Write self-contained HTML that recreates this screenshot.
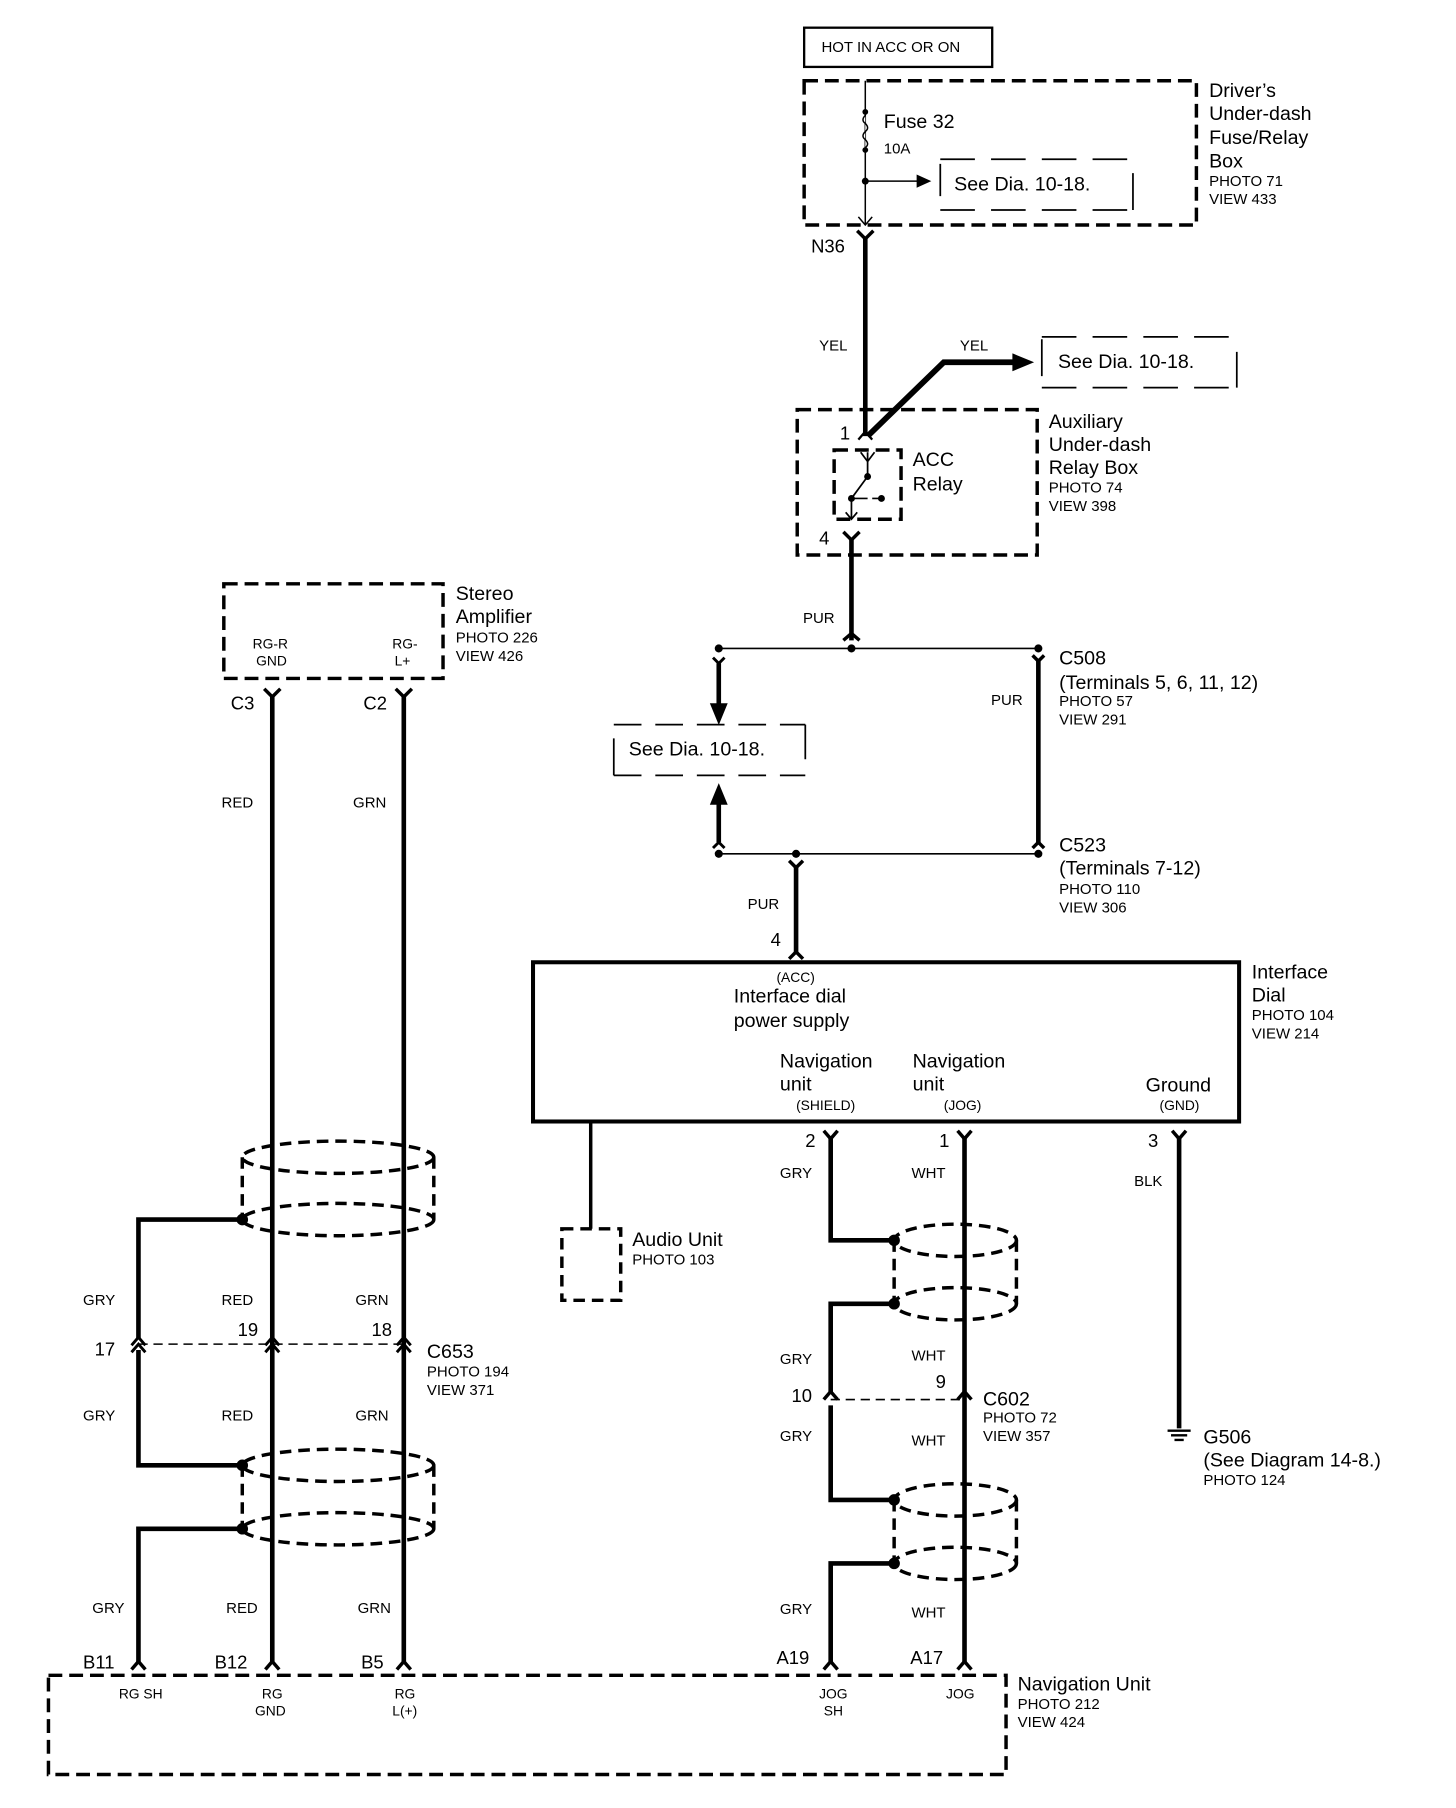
<!DOCTYPE html>
<html><head><meta charset="utf-8"><style>
html,body{margin:0;padding:0;background:#fff}
svg{display:block}
text{font-family:"Liberation Sans",sans-serif;fill:#000}
.b{font-size:17px}.s{font-size:13px}.m{font-size:16px}
</style></head><body>
<svg width="1456" height="1808" viewBox="0 0 1262 1567" preserveAspectRatio="none" xmlns="http://www.w3.org/2000/svg">
<g fill="none" stroke="#000">
<!-- top -->
<rect x="697" y="24" width="163" height="34" stroke-width="2"/>
<rect x="697" y="70" width="340" height="125" stroke-width="3" stroke-dasharray="12 6"/>
<line x1="750" y1="70" x2="750" y2="195" stroke-width="1.3"/>
<path d="M750 100 q-4 4 0 7 q4 4 0 7 q-4 4 0 7 q4 4 0 7" stroke-width="1.3" fill="#fff"/>
<line x1="750" y1="157" x2="795" y2="157" stroke-width="1.3"/>
<path d="M795 152 L806 157 L795 162 Z" fill="#000"/>
<path d="M744 188 L750 195 L756 188" stroke-width="1.3"/>
<path d="M815 138 H982 M815 182 H982" stroke-width="1.5" stroke-dasharray="30 14"/>
<path d="M815 142 V170 M982 150 V182" stroke-width="1.5"/>
<path d="M743 200 L750 207 L757 200" stroke-width="3"/>
<line x1="750" y1="205" x2="750" y2="378" stroke-width="4"/>
<path d="M752 378 L818 314 L880 314" stroke-width="5"/>
<path d="M878 307 L895 314 L878 321 Z" fill="#000"/>
<path d="M903 292 H1072 M903 336 H1072" stroke-width="1.5" stroke-dasharray="30 14"/>
<path d="M903 294 V326 M1072 305 V336" stroke-width="1.5"/>
<rect x="691" y="355" width="208" height="126" stroke-width="3" stroke-dasharray="12 6"/>
<path d="M744 381 L750 374 L756 381" stroke-width="2"/>
<rect x="723" y="390" width="58" height="60" stroke-width="3" stroke-dasharray="12 6"/>
<path d="M746 392 L752 400 M758 392 L752 400 M752 392 V413 L738 432 V450 M733 444 L738 450 L743 444 M738 432 H752 M756 432 H762" stroke-width="1.5"/>
<circle cx="752" cy="413" r="2.5" fill="#000"/><circle cx="738" cy="432" r="2.5" fill="#000"/><circle cx="764" cy="432" r="2.5" fill="#000"/>
<path d="M731 461 L738 468 L745 461" stroke-width="3"/>
<line x1="738" y1="466" x2="738" y2="555" stroke-width="4"/>
<path d="M731 555 L738 549 L745 555" stroke-width="3"/>
<line x1="623" y1="562" x2="900" y2="562" stroke-width="1.5"/>
<!-- left branch -->
<path d="M617 572 L623 566 L629 572 M617 578 L623 572 L629 578" stroke-width="0"/>
<path d="M618 570 L623 575 L628 570" stroke-width="2.5"/>
<line x1="623" y1="575" x2="623" y2="612" stroke-width="4"/>
<path d="M616 610 L623 627 L630 610 Z" fill="#000"/>
<path d="M532 628 H698 M532 672 H698" stroke-width="1.5" stroke-dasharray="24 12"/>
<path d="M532 640 V672 M698 628 V658" stroke-width="1.5"/>
<path d="M616 697 L623 680 L630 697 Z" fill="#000"/>
<line x1="623" y1="695" x2="623" y2="730" stroke-width="4"/>
<path d="M618 735 L623 730 L628 735" stroke-width="2.5"/>
<!-- right branch -->
<path d="M894 572 L900 566 L906 572" stroke-width="0"/>
<path d="M895 568 L900 573 L905 568" stroke-width="3"/>
<line x1="900" y1="572" x2="900" y2="731" stroke-width="4"/>
<path d="M895 735 L900 730 L905 735" stroke-width="3"/>
<line x1="623" y1="740" x2="900" y2="740" stroke-width="1.5"/>
<path d="M684 746 L690 752 L696 746" stroke-width="3"/>
<line x1="690" y1="750" x2="690" y2="826" stroke-width="4"/>
<path d="M684 831 L690 825 L696 831" stroke-width="3"/>
<!-- interface dial -->
<rect x="462" y="834" width="612" height="138" stroke-width="3.5"/>
<line x1="512" y1="972" x2="512" y2="1065" stroke-width="3"/>
<rect x="487" y="1065" width="51" height="62" stroke-width="3" stroke-dasharray="10 6"/>
<!-- nav shield wires -->
<path d="M714 980 L720 987 L726 980 M830 980 L836 987 L842 980 M1016 980 L1022 987 L1028 980" stroke-width="3"/>
<path d="M720 985 V1075 H775 M775 1130 H720 V1207 M720 1218 V1300 H775 M775 1355 H720 V1440" stroke-width="4"/>
<line x1="836" y1="985" x2="836" y2="1440" stroke-width="4"/>
<line x1="1022" y1="985" x2="1022" y2="1238" stroke-width="4"/>
<path d="M1012 1240 H1032 M1015 1244 H1029 M1018 1248 H1026" stroke-width="2"/>
<path d="M714 1213 L720 1206 L726 1213 M830 1213 L836 1206 L842 1213" stroke-width="3"/>
<line x1="720" y1="1213" x2="836" y2="1213" stroke-width="1.5" stroke-dasharray="8 5"/>
<g stroke-width="3" stroke-dasharray="10 6">
<ellipse cx="828" cy="1075" rx="53" ry="14"/><ellipse cx="828" cy="1130" rx="53" ry="14"/>
<path d="M775 1075 V1130 M881 1075 V1130"/>
<ellipse cx="828" cy="1300" rx="53" ry="14"/><ellipse cx="828" cy="1355" rx="53" ry="14"/>
<path d="M775 1300 V1355 M881 1300 V1355"/>
</g>
<circle cx="775" cy="1075" r="4.5" fill="#000"/><circle cx="775" cy="1130" r="4.5" fill="#000"/>
<circle cx="775" cy="1300" r="4.5" fill="#000"/><circle cx="775" cy="1355" r="4.5" fill="#000"/>
<path d="M714 1447 L720 1440 L726 1447 M830 1447 L836 1440 L842 1447" stroke-width="3"/>
<!-- stereo amp -->
<rect x="194" y="506" width="190" height="82" stroke-width="3" stroke-dasharray="12 6"/>
<path d="M229 597 L236 604 L243 597 M343 597 L350 604 L357 597" stroke-width="3"/>
<line x1="236" y1="602" x2="236" y2="1440" stroke-width="4"/>
<line x1="350" y1="602" x2="350" y2="1440" stroke-width="4"/>
<path d="M210 1057 H120 V1160 M120 1170 V1270 H210 M210 1325 H120 V1440" stroke-width="4"/>
<g stroke-width="3" stroke-dasharray="10 6">
<ellipse cx="293" cy="1003" rx="83" ry="14"/><ellipse cx="293" cy="1057" rx="83" ry="14"/>
<path d="M210 1003 V1057 M376 1003 V1057"/>
<ellipse cx="293" cy="1270" rx="83" ry="14"/><ellipse cx="293" cy="1325" rx="83" ry="14"/>
<path d="M210 1270 V1325 M376 1270 V1325"/>
</g>
<circle cx="210" cy="1057" r="4.5" fill="#000"/><circle cx="210" cy="1270" r="4.5" fill="#000"/><circle cx="210" cy="1325" r="4.5" fill="#000"/>
<path d="M114 1166 L120 1159 L126 1166 M114 1172 L120 1165 L126 1172 M230 1166 L236 1159 L242 1166 M230 1172 L236 1165 L242 1172 M344 1166 L350 1159 L356 1166 M344 1172 L350 1165 L356 1172" stroke-width="2.5"/>
<line x1="120" y1="1165" x2="350" y2="1165" stroke-width="1.3" stroke-dasharray="8 5"/>
<path d="M114 1447 L120 1440 L126 1447 M230 1447 L236 1440 L242 1447 M344 1447 L350 1440 L356 1447" stroke-width="3"/>
<rect x="42" y="1452" width="830" height="86" stroke-width="3" stroke-dasharray="12 6"/>
</g>
<circle cx="750" cy="97" r="2.5"/><circle cx="750" cy="130" r="2.5"/><circle cx="750" cy="157" r="3"/>
<circle cx="623" cy="562" r="3.5"/><circle cx="738" cy="562" r="3.5"/><circle cx="900" cy="562" r="3.5"/>
<circle cx="623" cy="740" r="3.5"/><circle cx="690" cy="740" r="3.5"/><circle cx="900" cy="740" r="3.5"/>

<text x="712" y="45" class="s">HOT IN ACC OR ON</text>
<text x="766" y="111" class="b">Fuse 32</text>
<text x="766" y="133" class="s">10A</text>
<text x="827" y="165" class="b">See Dia. 10-18.</text>
<text x="1048" y="84" class="b">Driver’s</text>
<text x="1048" y="104" class="b">Under-dash</text>
<text x="1048" y="125" class="b">Fuse/Relay</text>
<text x="1048" y="145" class="b">Box</text>
<text x="1048" y="161" class="s">PHOTO 71</text>
<text x="1048" y="177" class="s">VIEW 433</text>
<text x="703" y="219" class="m">N36</text>
<text x="710" y="304" class="s">YEL</text>
<text x="832" y="304" class="s">YEL</text>
<text x="917" y="319" class="b">See Dia. 10-18.</text>
<text x="728" y="381" class="m">1</text>
<text x="791" y="404" class="b">ACC</text>
<text x="791" y="425" class="b">Relay</text>
<text x="909" y="371" class="b">Auxiliary</text>
<text x="909" y="391" class="b">Under-dash</text>
<text x="909" y="411" class="b">Relay Box</text>
<text x="909" y="427" class="s">PHOTO 74</text>
<text x="909" y="443" class="s">VIEW 398</text>
<text x="710" y="472" class="m">4</text>
<text x="696" y="540" class="s">PUR</text>
<text x="545" y="655" class="b">See Dia. 10-18.</text>
<text x="859" y="611" class="s">PUR</text>
<text x="918" y="576" class="b">C508</text>
<text x="918" y="597" class="b">(Terminals 5, 6, 11, 12)</text>
<text x="918" y="612" class="s">PHOTO 57</text>
<text x="918" y="628" class="s">VIEW 291</text>
<text x="918" y="738" class="b">C523</text>
<text x="918" y="758" class="b">(Terminals 7-12)</text>
<text x="918" y="775" class="s">PHOTO 110</text>
<text x="918" y="791" class="s">VIEW 306</text>
<text x="648" y="788" class="s">PUR</text>
<text x="668" y="820" class="m">4</text>
<text x="673" y="851" style="font-size:12px">(ACC)</text>
<text x="636" y="869" class="b">Interface dial</text>
<text x="636" y="890" class="b">power supply</text>
<text x="676" y="925" class="b">Navigation</text>
<text x="676" y="945" class="b">unit</text>
<text x="690" y="962" style="font-size:12px">(SHIELD)</text>
<text x="791" y="925" class="b">Navigation</text>
<text x="791" y="945" class="b">unit</text>
<text x="818" y="962" style="font-size:12px">(JOG)</text>
<text x="993" y="946" class="b">Ground</text>
<text x="1005" y="962" style="font-size:12px">(GND)</text>
<text x="1085" y="848" class="b">Interface</text>
<text x="1085" y="868" class="b">Dial</text>
<text x="1085" y="884" class="s">PHOTO 104</text>
<text x="1085" y="900" class="s">VIEW 214</text>
<text x="698" y="994" class="m">2</text>
<text x="814" y="994" class="m">1</text>
<text x="995" y="994" class="m">3</text>
<text x="676" y="1021" class="s">GRY</text>
<text x="790" y="1021" class="s">WHT</text>
<text x="983" y="1028" class="s">BLK</text>
<text x="548" y="1080" class="b">Audio Unit</text>
<text x="548" y="1096" class="s">PHOTO 103</text>
<text x="676" y="1182" class="s">GRY</text>
<text x="790" y="1179" class="s">WHT</text>
<text x="811" y="1203" class="m">9</text>
<text x="686" y="1215" class="m">10</text>
<text x="852" y="1218" class="b">C602</text>
<text x="852" y="1233" class="s">PHOTO 72</text>
<text x="852" y="1249" class="s">VIEW 357</text>
<text x="676" y="1249" class="s">GRY</text>
<text x="790" y="1253" class="s">WHT</text>
<text x="1043" y="1251" class="b">G506</text>
<text x="1043" y="1271" class="b">(See Diagram 14-8.)</text>
<text x="1043" y="1287" class="s">PHOTO 124</text>
<text x="676" y="1399" class="s">GRY</text>
<text x="790" y="1402" class="s">WHT</text>
<text x="673" y="1442" class="m">A19</text>
<text x="789" y="1442" class="m">A17</text>
<text x="219" y="562" style="font-size:12px">RG-R</text>
<text x="222" y="577" style="font-size:12px">GND</text>
<text x="340" y="562" style="font-size:12px">RG-</text>
<text x="342" y="577" style="font-size:12px">L+</text>
<text x="395" y="520" class="b">Stereo</text>
<text x="395" y="540" class="b">Amplifier</text>
<text x="395" y="557" class="s">PHOTO 226</text>
<text x="395" y="573" class="s">VIEW 426</text>
<text x="200" y="615" class="m">C3</text>
<text x="315" y="615" class="m">C2</text>
<text x="192" y="700" class="s">RED</text>
<text x="306" y="700" class="s">GRN</text>
<text x="72" y="1131" class="s">GRY</text>
<text x="192" y="1131" class="s">RED</text>
<text x="308" y="1131" class="s">GRN</text>
<text x="206" y="1158" class="m">19</text>
<text x="322" y="1158" class="m">18</text>
<text x="82" y="1175" class="m">17</text>
<text x="370" y="1177" class="b">C653</text>
<text x="370" y="1193" class="s">PHOTO 194</text>
<text x="370" y="1209" class="s">VIEW 371</text>
<text x="72" y="1231" class="s">GRY</text>
<text x="192" y="1231" class="s">RED</text>
<text x="308" y="1231" class="s">GRN</text>
<text x="80" y="1398" class="s">GRY</text>
<text x="196" y="1398" class="s">RED</text>
<text x="310" y="1398" class="s">GRN</text>
<text x="72" y="1446" class="m">B11</text>
<text x="186" y="1446" class="m">B12</text>
<text x="313" y="1446" class="m">B5</text>
<text x="103" y="1472" style="font-size:12px">RG SH</text>
<text x="227" y="1472" style="font-size:12px">RG</text>
<text x="221" y="1487" style="font-size:12px">GND</text>
<text x="342" y="1472" style="font-size:12px">RG</text>
<text x="340" y="1487" style="font-size:12px">L(+)</text>
<text x="710" y="1472" style="font-size:12px">JOG</text>
<text x="714" y="1487" style="font-size:12px">SH</text>
<text x="820" y="1472" style="font-size:12px">JOG</text>
<text x="882" y="1465" class="b">Navigation Unit</text>
<text x="882" y="1481" class="s">PHOTO 212</text>
<text x="882" y="1497" class="s">VIEW 424</text>
</svg>
</body></html>
